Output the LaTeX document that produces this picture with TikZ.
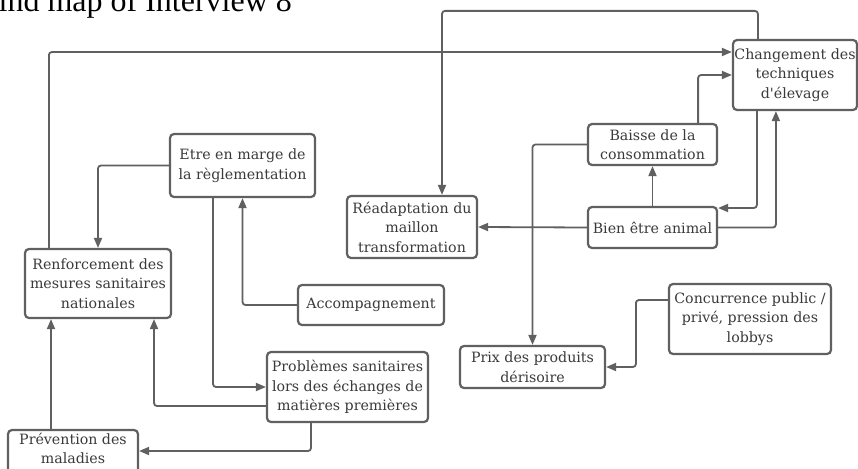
\documentclass[tikz,border=0pt]{standalone}
\usepackage{fontspec}
\setmainfont{Liberation Serif}
\newfontfamily\boxfont{DejaVu Serif}
\usetikzlibrary{arrows.meta}
\definecolor{trait}{HTML}{606060}
\definecolor{texte}{HTML}{3A3A3A}
\begin{document}
\begin{tikzpicture}[x=1pt, y=-1pt,
    boite/.style={draw=trait, line width=2.2pt, rounded corners=4pt, align=center,
      text=texte, inner sep=1pt, font=\boxfont\fontsize{14.2}{19.5}\selectfont},
    fleche/.style={draw=trait, line width=1.8pt, rounded corners=3pt,
      -{Triangle[length=10pt, width=8pt]}},
    titre/.style={font=\fontsize{32}{36}\selectfont, text=black, inner sep=0pt}]
    \clip (0,0) rectangle (858,468);
    \fill[white] (0,0) rectangle (858,468);

    % Titre
    \node[titre, anchor=base west] (titre) at (-30,12) {Mind map of Interview 8};

    % Boites
    \node[boite, minimum width=124, minimum height=70] (chgt) at (795,75) {Changement des\\techniques\\d'\'elevage};
    \node[boite, minimum width=129, minimum height=41] (baisse) at (652.5,144.5) {Baisse de la\\consommation};
    \node[boite, minimum width=129, minimum height=41] (bien) at (652.5,227.5) {Bien \^etre animal};
    \node[boite, minimum width=130, minimum height=62] (readapt) at (412,227) {R\'eadaptation du\\maillon\\transformation};
    \node[boite, minimum width=145, minimum height=63] (marge) at (242.5,165.5) {Etre en marge de\\la r\`eglementation};
    \node[boite, minimum width=146, minimum height=69] (renfo) at (98,283.5) {Renforcement des\\mesures sanitaires\\nationales};
    \node[boite, minimum width=146, minimum height=40] (accomp) at (371,305) {Accompagnement};
    \node[boite, minimum width=161, minimum height=70] (prob) at (347.5,387) {Probl\`emes sanitaires\\lors des \'echanges de\\mati\`eres premi\`eres};
    \node[boite, minimum width=130, minimum height=62] (prev) at (73,461) {Pr\'evention des\\maladies\\[6pt]};
    \node[boite, minimum width=145, minimum height=42] (prix) at (532.5,367) {Prix des produits\\d\'erisoire};
    \node[boite, minimum width=162, minimum height=70] (concur) at (750,319) {Concurrence public /\\priv\'e, pression des\\lobbys};

    % Liens
    \draw[fleche] ([xshift=25]renfo.north west) |- ([yshift=23]chgt.west);
    \draw[fleche] ([xshift=26]chgt.north west) -- ++(0,-28) -| ([xshift=30]readapt.north);
    \draw[fleche] ([xshift=-20]baisse.north east) |- (chgt.west);
    \draw[fleche] ([xshift=25]chgt.south west) |- ([yshift=19.5]bien.east);
    \draw[fleche] (bien.east) -| ([xshift=44]chgt.south west);
    \draw[fleche] (bien.north) -- (baisse.south);
    \draw[fleche] (bien.west) -- (readapt.east);
    \draw[fleche] (baisse.west) -| (prix.north);
    \draw[fleche] ([yshift=19]concur.west) -- ++(-32,0) |- (prix.east);
    \draw[fleche] (marge.west) -| (renfo.north);
    \draw[fleche] ([xshift=-29.5]marge.south) |- (prob.west);
    \draw[fleche] (accomp.west) -| (marge.south);
    \draw[fleche] ([yshift=-19]prob.west) -| ([xshift=56]renfo.south);
    \draw[fleche] ([xshift=-36.5]prob.south) |- ([yshift=10]prev.east);
    \draw[fleche] ([xshift=-22]prev.north) -- ([xshift=-47]renfo.south);
\end{tikzpicture}
\end{document}
